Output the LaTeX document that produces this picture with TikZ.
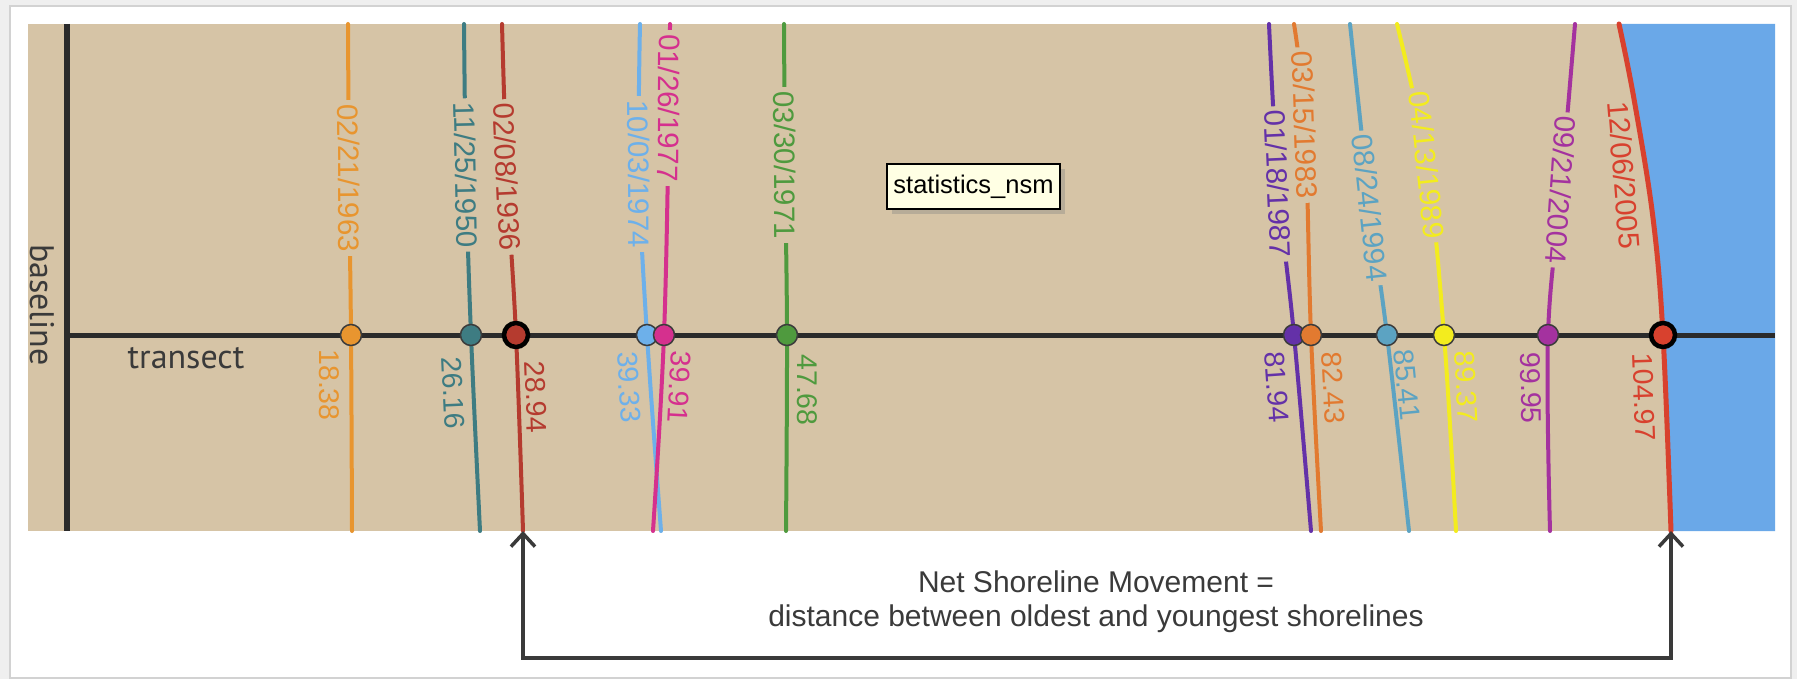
\documentclass[tikz,border=0pt]{standalone}
\usepackage{fontspec}
\setmainfont{Liberation Sans}
\newfontfamily\humanist{PT Sans}
\usetikzlibrary{arrows.meta,shadows}
\definecolor{pagebg}{HTML}{EFEFEF}
\definecolor{cardline}{HTML}{D2D2D2}
\definecolor{tan}{HTML}{D6C4A6}
\definecolor{water}{HTML}{6AA8E8}
\definecolor{axis}{HTML}{2B2B2B}
\definecolor{o63}{HTML}{E8952F}
\definecolor{t50}{HTML}{3E7C82}
\definecolor{r36}{HTML}{B53B2F}
\definecolor{b74}{HTML}{6DB0EA}
\definecolor{m77}{HTML}{D5308E}
\definecolor{g71}{HTML}{4F9A3E}
\definecolor{p87}{HTML}{6431A8}
\definecolor{o83}{HTML}{E27A30}
\definecolor{sb94}{HTML}{5CA3C2}
\definecolor{y89}{HTML}{F3EC1E}
\definecolor{p04}{HTML}{A4329F}
\definecolor{r05}{HTML}{D8412E}
\definecolor{dotline}{HTML}{3C3C3C}
\definecolor{cream}{HTML}{FFFFE4}
\definecolor{txt}{HTML}{3A3A3A}
% name, colour, x top, x label, y label, x dot, x bottom, label angle, date
\newcommand\drawshore[9]{%
  \draw[shore, draw=#2] plot[smooth, tension=0.6] coordinates {(#3,24) (#4,#5) (#6,335) (#7,531)};
  \node[datelbl, text=#2, rotate=#8] (#1-lbl) at (#4,#5) {#9};
}
\newcommand\drawdot[3]{\node[dot, fill=#2] (#1-dot) at (#3,335) {};}
\newcommand\drawnum[6]{\node[numlbl, text=#2, rotate=#5] (#1-num) at (#3,#4) {#6};}
\begin{document}
\begin{tikzpicture}[x=1pt,y=-1pt,
  shore/.style={line width=4pt, line cap=round},
  datelbl/.style={font=\fontsize{29.5}{30}\selectfont, fill=tan, inner xsep=4pt, inner ysep=0.5pt},
  numlbl/.style={font=\fontsize{28.5}{29}\selectfont, inner sep=0pt},
  dot/.style={circle, minimum size=21pt, inner sep=0pt, draw=dotline, line width=1.5pt},
  reddot/.style={circle, minimum size=24pt, inner sep=0pt, draw=black, line width=4.5pt},
  axisline/.style={draw=axis},
  statbox/.style={draw=black, fill=cream, line width=1.8pt, minimum width=173pt, minimum height=45pt,
    inner sep=0pt, font=\fontsize{25.5}{26}\selectfont, drop shadow={shadow xshift=5pt, shadow yshift=-5pt, opacity=0.35}},
  bottomtxt/.style={font=\fontsize{30}{31}\selectfont, text=txt, inner sep=0pt},
  humanlbl/.style={font=\humanist\fontsize{34}{35}\selectfont, text=txt, inner sep=0pt},
  nsmarrow/.style={draw=txt, line width=3.5pt, line join=miter,
    {Straight Barb[length=13pt,width=24pt]}-{Straight Barb[length=13pt,width=24pt]}}
]
\useasboundingbox (0,0) rectangle (1797,679);
\fill[pagebg] (0,0) rectangle (1797,679);
\draw[fill=white, draw=cardline, line width=1.2pt] (10,6) rectangle (1791,678);
% land and water
\fill[tan] (28,24) rectangle (1775,531);
\fill[water] plot[smooth, tension=0.6] coordinates {(1619,24) (1634,99) (1653,218) (1663,335) (1671,531)} -- (1775,531) -- (1775,24) -- cycle;
% baseline and transect
\draw[axisline, line width=6.5pt] (67,24) -- (67,531);
\draw[axisline, line width=5pt] (67,335) -- (1775,335);
\node[humanlbl, rotate=-90] (baseline) at (42,305) {baseline};
\node[humanlbl, anchor=base] (transect) at (186,368) {transect};
% shorelines
\drawshore{s63}{o63}{348}{349}{178}{351}{352}{-89.5}{02/21/1963}
\drawshore{s50}{t50}{464}{466}{175}{471}{480}{-88.7}{11/25/1950}
\drawshore{s36}{r36}{502}{507}{177}{516}{523}{-87.4}{02/08/1936}
\drawshore{s74}{b74}{640}{639}{174}{647}{661}{-89.5}{10/03/1974}
\drawshore{s77}{m77}{670}{669}{108}{664}{653}{-90.5}{01/26/1977}
\drawshore{s71}{g71}{784}{785}{165}{787}{786}{-89.5}{03/30/1971}
\drawshore{s87}{p87}{1269}{1278}{184}{1294}{1311}{-87.5}{01/18/1987}
\drawshore{s83}{o83}{1294}{1305}{125}{1311}{1321}{-88}{03/15/1983}
\drawshore{s94}{sb94}{1350}{1370}{208}{1387}{1409}{-84}{08/24/1994}
\drawshore{s89}{y89}{1397}{1427}{165}{1444}{1456}{-84}{04/13/1989}
\drawshore{s04}{p04}{1575}{1561}{190}{1548}{1550}{-94}{09/21/2004}
\draw[line width=5pt, draw=r05, line cap=round] plot[smooth, tension=0.6] coordinates {(1619,24) (1634,99) (1653,218) (1663,335) (1671,531)};
\node[datelbl, fill=none, text=r05, rotate=-85.5] (s05-lbl) at (1624,175) {12/06/2005};
% distances
\drawnum{s63}{o63}{329}{385}{-90}{18.38}
\drawnum{s50}{t50}{453}{393}{-87.4}{26.16}
\drawnum{s36}{r36}{536}{397}{-88}{28.94}
\drawnum{s74}{b74}{629}{387}{-86.5}{39.33}
\drawnum{s77}{m77}{679}{387}{-93}{39.91}
\drawnum{s71}{g71}{807}{390}{-90}{47.68}
\drawnum{s87}{p87}{1277}{387}{-86}{81.94}
\drawnum{s83}{o83}{1333}{388}{-87}{82.43}
\drawnum{s94}{sb94}{1407}{385}{-84.5}{85.41}
\drawnum{s89}{y89}{1466}{387}{-87}{89.37}
\drawnum{s04}{p04}{1531}{388}{-89.4}{99.95}
\drawnum{s05}{r05}{1644}{397}{-88}{104.97}
% intersection points
\drawdot{s63}{o63}{351}
\drawdot{s50}{t50}{471}
\node[reddot, fill=r36] (s36-dot) at (516,335) {};
\drawdot{s74}{b74}{647}
\drawdot{s77}{m77}{664}
\drawdot{s71}{g71}{787}
\drawdot{s87}{p87}{1294}
\drawdot{s83}{o83}{1311}
\drawdot{s94}{sb94}{1387}
\drawdot{s89}{y89}{1444}
\drawdot{s04}{p04}{1548}
\node[reddot, fill=r05] (s05-dot) at (1663,335) {};
% tooltip
\node[statbox] (stat) at (973.5,186.5) {statistics\_nsm};
% net shoreline movement
\node[bottomtxt, anchor=base] (nsm1) at (1096,592) {Net Shoreline Movement =};
\node[bottomtxt, anchor=base] (nsm2) at (1096,626) {distance between oldest and youngest shorelines};
\coordinate (oldest) at (523,531);
\coordinate (youngest) at (1671,531);
\draw[nsmarrow] (oldest) -- (523,658) -- (1671,658) -- (youngest);
\end{tikzpicture}
\end{document}
